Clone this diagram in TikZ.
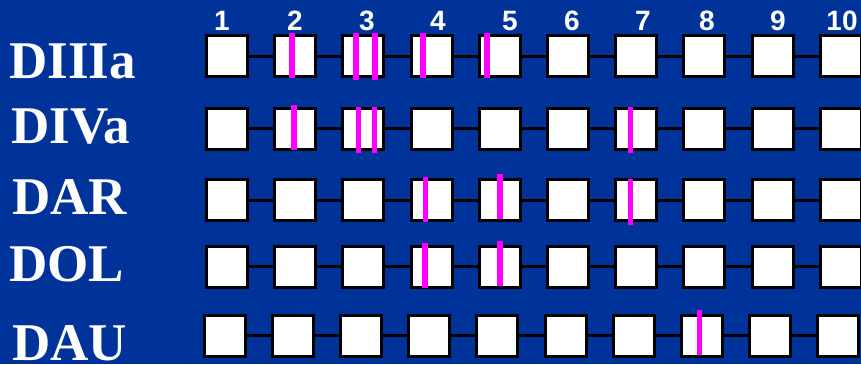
\documentclass[tikz,border=0pt]{standalone}
\usepackage{fontspec}
\usepackage{xcolor}
\usepackage{tikz}
\usetikzlibrary{calc}
\setmainfont{Liberation Serif}
\newfontfamily\numfont{Liberation Sans}
\definecolor{exonblue}{HTML}{003399}
\definecolor{exonmag}{HTML}{FF00FF}

\tikzset{
  seg/.style={draw=black,fill=white,line width=3pt,minimum size=41pt,inner sep=0pt},
  link/.style={black,line width=3pt},
  mutsite/.style={exonmag,line width=5.5pt},
  rowlbl/.style={white,inner sep=0pt,anchor=base west,font=\fontsize{53}{53}\selectfont\bfseries},
  numlbl/.style={white,inner sep=0pt,anchor=base,font=\numfont\fontsize{28}{28}\selectfont\bfseries}
}

\begin{document}
\begin{tikzpicture}[x=1pt,y=-1pt]
  \useasboundingbox (0,0) rectangle (861,364);
  \clip (0,0) rectangle (861,364);
  \fill[exonblue] (0,0) rectangle (861,364);
  % exon numbers
  \foreach \k/\x in {1/222,2/295,3/367,4/438,5/510,6/572,7/643,8/707,9/778,10/842}
    \node[numlbl] (n\k) at (\x,30) {\k};
  % row labels
  \node[rowlbl] (lIIIa) at (9,78) {DIIIa};
  \node[rowlbl] (lIVa) at (11,143) {DIVa};
  \node[rowlbl] (lAR) at (12,214) {DAR};
  \node[rowlbl] (lOL) at (9,281) {DOL};
  \node[rowlbl] (lAU) at (12,360) {DAU};
  % exon rows
  \foreach \r/\y/\sh in {1/56/0,2/128.5/0,3/200/0,4/266.5/0,5/335.5/-2.5} {
    \foreach \k in {1,...,10}
      \node[seg] (r\r-\k) at ({227+\sh+68.2*(\k-1)},\y) {};
    \foreach \k [evaluate=\k as \j using int(\k+1)] in {1,...,9}
      \draw[link] (r\r-\k.east) -- (r\r-\j.west);
  }
  % mutation sites
  \foreach \b/\dx/\ya/\yb in {r1-2/-3/-23/22, r1-3/-7.5/-23/24, r1-3/11.5/-23/24,
      r1-4/-8.5/-23/22, r1-5/-13/-23/22,
      r2-2/-1/-23.5/21.5, r2-3/-5/-21.5/24.5, r2-3/11/-21.5/24.5, r2-7/-5.5/-21.5/24.5,
      r3-4/-6/-23/22, r3-5/0/-26/19, r3-7/-5.7/-21/25,
      r4-4/-6.5/-23.5/21.5, r4-5/0/-25.5/19.5,
      r5-8/-2.6/-26/19}
    \draw[mutsite] ($(\b.center)+(\dx,\ya)$) -- ($(\b.center)+(\dx,\yb)$);
\end{tikzpicture}
\end{document}
